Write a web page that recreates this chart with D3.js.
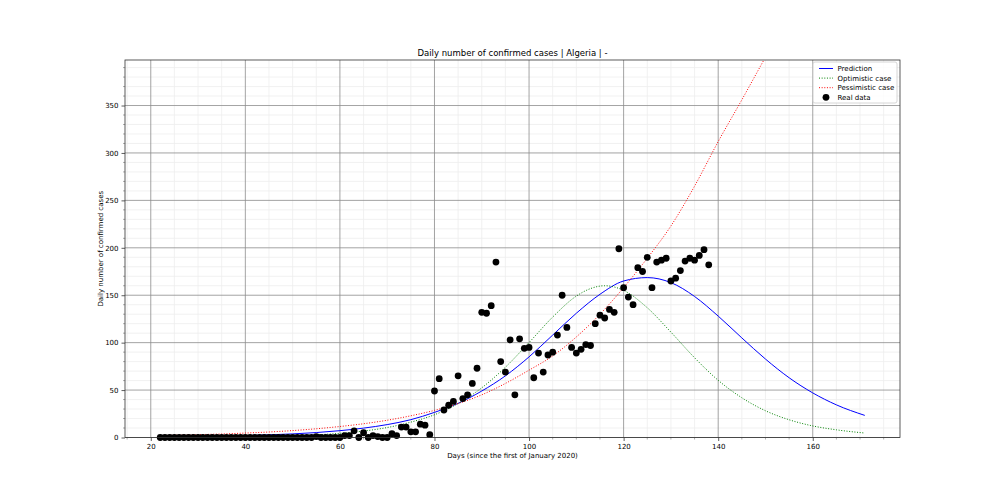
<!DOCTYPE html>
<html>
<head>
<meta charset="utf-8">
<script src="https://cdn.jsdelivr.net/npm/d3@7"></script>
<style>
  body { margin: 0; background: #fff; }
  svg text { font-family: "DejaVu Sans", sans-serif; fill: #000; }
</style>
</head>
<body>
<script>
// real data: one value per day, starting on day 22
const realStart = 22;
const realCases = [
    0, 0, 0, 0, 0, 0, 0, 0, 0, 0, 0, 0, 0, 0, 0, 0, 0, 0, 0, 0, 0, 0, 0, 0, 0, 0, 0, 0, 0, 0, 0, 0, 0,
    1, 0, 0, 0, 0, 0,
    2, 2, 7, 0, 5, 0, 2, 1, 0, 0, 4, 2, 11, 11, 6, 6, 14, 13, 3,
    49, 62, 29, 34, 38, 65, 41, 45, 57, 73, 132, 131, 139, 185, 80, 69, 103, 45, 104, 94,
    95, 63, 89, 69, 87, 90, 108, 150, 116, 95, 89, 93, 98, 97, 120, 129, 126, 135, 132, 199,
    158, 148, 140, 179, 175, 190, 158, 185, 187, 189, 165, 168, 176, 186, 189, 187, 192, 198, 182
];

// fitted curves
const predDays = [22, 25, 30, 35, 40, 45, 50, 55, 60, 65, 70, 75, 80, 85, 90, 95, 100, 105, 110, 115, 120, 125, 130, 135, 140, 145, 150, 155, 160, 165, 171];
const predCases = [0.6, 0.8, 1.1, 1.5, 2.0, 2.8, 3.8, 5.2, 7.2, 9.9, 13.6, 18.8, 26.5, 36, 49, 65, 85, 108, 131, 151, 165, 168.6, 163.3, 148.7, 128, 105, 82.7, 63, 47, 34.4, 23.3];

const optDays = [22, 25, 30, 35, 40, 45, 50, 55, 60, 65, 70, 75, 80, 85, 90, 95, 100, 105, 110, 113, 116, 120, 125, 130, 135, 140, 145, 150, 155, 160, 165, 171];
const optCases = [0.15, 0.2, 0.3, 0.5, 0.7, 1.15, 1.8, 2.8, 4.4, 6.8, 10.5, 16.2, 24, 35.8, 52.4, 74.1, 100.1, 127, 149.1, 157, 160, 155.1, 136.8, 111.1, 84.1, 60.3, 41.9, 28.2, 18.7, 12.2, 8.1, 4.7];

const pessDays = [22, 25, 30, 35, 40, 45, 50, 55, 60, 65, 70, 75, 80, 85, 90, 95, 100, 105, 110, 115, 120, 125, 130, 135, 140, 145, 150, 155, 160, 165, 171];
const pessCases = [2.1, 2.4, 3.0, 3.7, 4.7, 5.8, 7.3, 9.2, 11.6, 14.5, 18.2, 22.9, 28.6, 35.8, 45, 57, 71, 86, 106, 130, 158, 189, 223, 265, 312, 356, 401, 445, 488, 530, 578];

const xTicks = [20, 40, 60, 80, 100, 120, 140, 160];
const yTicks = [0, 50, 100, 150, 200, 250, 300, 350];

const legendLabels = ["Prediction", "Optimistic case", "Pessimistic case", "Real data"];

const margin = {
    top: 60,
    right: 100,
    bottom: 62.5,
    left: 125
};

const w = 1000 - margin.left - margin.right;
const h = 500 - margin.top - margin.bottom;

const svg = d3.select("body").append("svg")
    .attr("width", 1000)
    .attr("height", 500);

const chart = svg.append("g")
    .attr("transform", `translate(${margin.left},${margin.top})`);

const xScale = d3.scaleLinear().domain([14.55, 178.45]).range([0, w]);
const yScale = d3.scaleLinear().domain([0, 398]).range([h, 0]);

const xMinor = d3.range(15, 179, 5).filter(v => v % 20 != 0);
const yMinor = d3.range(10, 398, 10).filter(v => v % 50 != 0);

// grid: minor first, then major
chart.append("g")
    .selectAll("line")
    .data(xMinor)
    .enter().append("line")
    .attr("x1", d => xScale(d)).attr("x2", d => xScale(d))
    .attr("y1", 0).attr("y2", h)
    .style("stroke", "#eeeeee").style("stroke-width", 0.8);

chart.append("g")
    .selectAll("line")
    .data(yMinor)
    .enter().append("line")
    .attr("x1", 0).attr("x2", w)
    .attr("y1", d => yScale(d)).attr("y2", d => yScale(d))
    .style("stroke", "#eeeeee").style("stroke-width", 0.8);

chart.append("g")
    .selectAll("line")
    .data(xTicks)
    .enter().append("line")
    .attr("x1", d => xScale(d)).attr("x2", d => xScale(d))
    .attr("y1", 0).attr("y2", h)
    .style("stroke", "#8c8c8c").style("stroke-width", 0.8);

chart.append("g")
    .selectAll("line")
    .data(yTicks)
    .enter().append("line")
    .attr("x1", 0).attr("x2", w)
    .attr("y1", d => yScale(d)).attr("y2", d => yScale(d))
    .style("stroke", "#8c8c8c").style("stroke-width", 0.8);

// axes
const xAxis = d3.axisBottom(xScale).tickValues(xTicks).tickSize(3.5).tickPadding(3);
const yAxis = d3.axisLeft(yScale).tickValues(yTicks).tickSize(3.5).tickPadding(3);

const gx = chart.append("g")
    .attr("transform", `translate(0,${h})`)
    .call(xAxis);
const gy = chart.append("g").call(yAxis);

[gx, gy].forEach(g => {
    g.select(".domain").remove();
    g.selectAll("text").style("font-size", "7px").style("font-family", "DejaVu Sans");
    g.selectAll("line").style("stroke", "#333").style("stroke-width", 0.8);
});

// minor ticks
chart.append("g")
    .selectAll("line")
    .data(xMinor)
    .enter().append("line")
    .attr("x1", d => xScale(d)).attr("x2", d => xScale(d))
    .attr("y1", h).attr("y2", h + 2)
    .style("stroke", "#777").style("stroke-width", 0.6);

chart.append("g")
    .selectAll("line")
    .data(yMinor)
    .enter().append("line")
    .attr("x1", -2).attr("x2", 0)
    .attr("y1", d => yScale(d)).attr("y2", d => yScale(d))
    .style("stroke", "#777").style("stroke-width", 0.6);

// curves
chart.append("clipPath").attr("id", "plot-clip")
    .append("rect").attr("width", w).attr("height", h);

const plotArea = chart.append("g").attr("clip-path", "url(#plot-clip)");

const line = d3.line()
    .x(d => xScale(d[0]))
    .y(d => yScale(d[1]))
    .curve(d3.curveMonotoneX);

plotArea.append("path")
    .datum(predDays.map((d, i) => [d, predCases[i]]))
    .attr("d", line)
    .style("fill", "none").style("stroke", "#0000ff").style("stroke-width", 1);

plotArea.append("path")
    .datum(optDays.map((d, i) => [d, optCases[i]]))
    .attr("d", line)
    .style("fill", "none").style("stroke", "#008000").style("stroke-width", 1)
    .style("stroke-dasharray", "1,1.65");

plotArea.append("path")
    .datum(pessDays.map((d, i) => [d, pessCases[i]]))
    .attr("d", line)
    .style("fill", "none").style("stroke", "#ff0000").style("stroke-width", 1)
    .style("stroke-dasharray", "1,1.65");

chart.append("g")
    .selectAll("circle")
    .data(realCases)
    .enter().append("circle")
    .attr("cx", (d, i) => xScale(realStart + i))
    .attr("cy", d => yScale(d))
    .attr("r", 3.4)
    .style("fill", "#000");

// frame
chart.append("rect")
    .attr("width", w).attr("height", h)
    .style("fill", "none").style("stroke", "#333").style("stroke-width", 0.8);

// texts
chart.append("text")
    .attr("x", w / 2)
    .attr("y", -4)
    .attr("text-anchor", "middle")
    .style("font-size", "8.5px")
    .text("Daily number of confirmed cases | Algeria | -");

chart.append("text")
    .attr("x", w / 2)
    .attr("y", h + 20)
    .attr("text-anchor", "middle")
    .style("font-size", "7px")
    .text("Days (since the first of January 2020)");

chart.append("text")
    .attr("transform", "rotate(-90)")
    .attr("x", -h / 2)
    .attr("y", -22)
    .attr("text-anchor", "middle")
    .style("font-size", "7px")
    .text("Daily number of confirmed cases");

// legend
const legend = chart.append("g")
    .attr("transform", `translate(${w - 87},2)`);

legend.append("rect")
    .attr("width", 84).attr("height", 41).attr("rx", 2)
    .style("fill", "#fff").style("fill-opacity", 0.8)
    .style("stroke", "#ccc").style("stroke-width", 0.8);

const legendStyles = [
    { color: "#0000ff", dash: null },
    { color: "#008000", dash: "1,1.65" },
    { color: "#ff0000", dash: "1,1.65" },
    null
];

const rows = legend.selectAll(".legend")
    .data(legendLabels)
    .enter().append("g")
    .attr("class", "legend")
    .attr("transform", (d, i) => `translate(0,${6.5 + i * 9.6})`);

rows.each(function (d, i) {
    const row = d3.select(this);
    if (legendStyles[i]) {
        row.append("line")
            .attr("x1", 6).attr("x2", 20)
            .style("stroke", legendStyles[i].color)
            .style("stroke-width", 1)
            .style("stroke-dasharray", legendStyles[i].dash);
    } else {
        row.append("circle").attr("cx", 13).attr("r", 3.4).style("fill", "#000");
    }
    row.append("text")
        .attr("x", 24.5)
        .attr("dy", "0.35em")
        .style("font-size", "7px")
        .text(d);
});
</script>
</body>
</html>
